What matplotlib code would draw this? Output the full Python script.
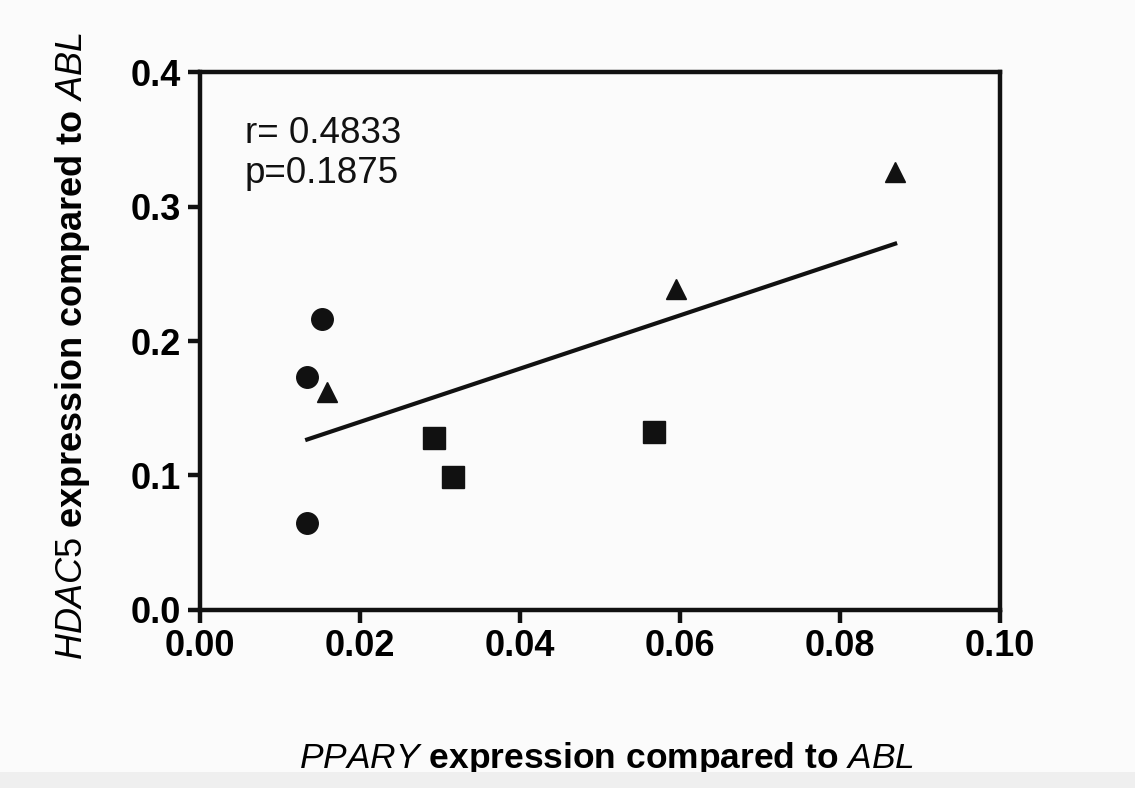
import numpy as np
import matplotlib
matplotlib.use("Agg")
import matplotlib.pyplot as plt
from matplotlib.patches import Rectangle

plt.rcParams["font.family"] = ["Liberation Sans", "DejaVu Sans"]
plt.rcParams["mathtext.fontset"] = "custom"
plt.rcParams["mathtext.rm"] = "Liberation Sans"
plt.rcParams["mathtext.it"] = "Liberation Sans:italic"
plt.rcParams["mathtext.bf"] = "Liberation Sans:bold"

# data
circle_x = [0.0153, 0.0134, 0.0134]
circle_y = [0.216, 0.173, 0.065]
triangle_x = [0.0159, 0.0595, 0.0869]
triangle_y = [0.162, 0.239, 0.326]
square_x = [0.0293, 0.0316, 0.0568]
square_y = [0.128, 0.099, 0.132]

all_x = np.array(circle_x + triangle_x + square_x)
all_y = np.array(circle_y + triangle_y + square_y)

fig = plt.figure(figsize=(11.35, 7.88), dpi=100, facecolor="#fbfbfb")
fig.patches.append(Rectangle((0, 0), 1, 0.02, transform=fig.transFigure,
                             facecolor="#efefef", edgecolor="none", zorder=0))
ax = fig.add_axes([0.1762, 0.2259, 0.7048, 0.6827])
ax.set_facecolor("#fbfbfb")

ax.plot(circle_x, circle_y, "o", color="#111111", markersize=15.5, clip_on=False)
ax.plot(triangle_x, triangle_y, "^", color="#111111", markersize=15, clip_on=False)
ax.plot(square_x, square_y, "s", color="#111111", markersize=16.5, clip_on=False)

# linear fit
slope, intercept = np.polyfit(all_x, all_y, 1)
fx = np.array([all_x.min(), all_x.max()])
ax.plot(fx, slope * fx + intercept, color="#111111", linewidth=3)

ax.set_xlim(0, 0.10)
ax.set_ylim(0, 0.4)
ax.set_xticks([0.00, 0.02, 0.04, 0.06, 0.08, 0.10])
ax.set_xticklabels(["0.00", "0.02", "0.04", "0.06", "0.08", "0.10"])
ax.set_yticks([0.0, 0.1, 0.2, 0.3, 0.4])
ax.set_yticklabels(["0.0", "0.1", "0.2", "0.3", "0.4"])

for s in ax.spines.values():
    s.set_linewidth(3.2)
    s.set_color("#111111")
ax.tick_params(axis="both", direction="out", width=3.2, length=9,
               color="#111111", labelsize=26, pad=5)
for lab in ax.get_xticklabels() + ax.get_yticklabels():
    lab.set_fontweight("bold")

ax.text(0.0056, 0.3472, "r= 0.4833", fontsize=26.5, color="#111111", va="baseline")
ax.text(0.0056, 0.3175, "p=0.1875", fontsize=26.5, color="#111111", va="baseline")

ax.set_xlabel(r"$\it{PPARY}$ expression compared to $\it{ABL}$",
              fontsize=25.5, fontweight="bold")
ax.set_ylabel(r"$\it{HDAC5}$ expression compared to $\it{ABL}$",
              fontsize=26, fontweight="bold")
ax.xaxis.set_label_coords(0.5075, -0.242)
ax.yaxis.set_label_coords(-0.135, 0.49)

fig.savefig("out.png", dpi=100, facecolor=fig.get_facecolor())
